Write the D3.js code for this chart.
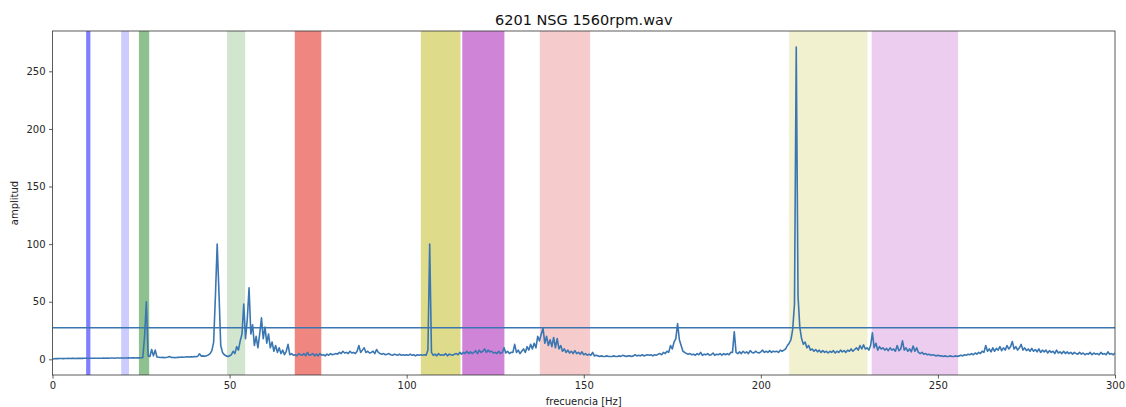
<!DOCTYPE html>
<html>
<head>
<meta charset="utf-8">
<script src="https://cdn.jsdelivr.net/npm/d3@7"></script>
<style>
  html, body { margin: 0; padding: 0; background: #fff; }
  svg { display: block; font-family: "DejaVu Sans", sans-serif; }
</style>
</head>
<body>
<svg id="chart" width="1126" height="407"></svg>
<script>
// ---------------- data ----------------
const title = "6201 NSG 1560rpm.wav";
const xLabel = "frecuencia [Hz]";
const yLabel = "amplitud";
const xTicks = [0, 50, 100, 150, 200, 250, 300];
const yTicks = [0, 50, 100, 150, 200, 250];

const freqStart = 0;
const freqStep = 0.5;
// amplitude spectrum, one value per 0.5 Hz from 0 Hz to 300 Hz
const amplitude = [
  // 0 - 9.5
  0.3,0.5,0.6,0.6,0.7,0.7,0.6,0.7,0.7,0.8,0.7,0.8,0.8,0.7,0.8,0.8,0.9,0.8,0.9,0.9,
  // 10 - 19.5
  0.9,0.9,1.0,0.9,1.0,1.0,0.9,1.0,1.0,1.1,1.0,1.1,1.0,1.1,1.1,1.0,1.1,1.2,1.1,1.2,
  // 20 - 29.5
  1.2,1.1,1.2,1.3,1.2,1.3,1.3,1.2,1.4,1.3,1.4,1.5,20,50,3,2.5,8.5,3,8,2,
  // 30 - 39.5
  1.8,1.6,1.7,1.5,1.6,1.8,2.5,1.7,1.6,1.5,1.6,1.7,1.8,1.9,1.8,2.0,2.2,2.0,2.3,2.1,
  // 40 - 49.5
  2.4,2.2,2.6,4.8,2.8,3.0,2.6,3.2,3.8,5.0,7.5,15,55,100,58,12,6,4,3,2.5,
  // 50 - 59.5
  3,4,7,5,11,8,16,22,48,18,35,62,22,30,12,20,10,22,36,18,
  // 60 - 69.5
  28,14,22,10,15,7,12,6,10,5,8,4,7,13,4,5,3.5,4,3,5,
  // 70 - 79.5
  4,3.5,5,3,6,3.5,4,5,3,4.5,3,5,3.5,4,3,4.5,3.5,5,4,4.5,
  // 80 - 89.5
  5,4.5,6,5,7,5.5,6,5,7,5.5,6,5,7,12,6,8,10,6,7,5.5,
  // 90 - 99.5
  6,7,5,8.5,6,5,4.5,5,4,4.5,5,4,3.5,4.5,4,3.5,4.5,3.5,4,3.5,
  // 100 - 109.5
  4,3.5,4.5,3.5,4,3,4,3.5,4,3.5,4,3.5,8,100,6,3.5,4.5,3,5,3.5,
  // 110 - 119.5
  4,3.5,5,3,4.5,4,3.5,4.5,5,4,6,4.5,6,5,7,5,6.5,5,6,7.5,
  // 120 - 129.5
  5,8,6,7,9,6,8,6.5,7,5.5,6,5,7,5,6,10,5.5,7,5,6,
  // 130 - 139.5
  6,13,6,8,5,7,9,6,11,8,13,9,14,10,20,16,22,27,14,20,
  // 140 - 149.5
  12,17,11,19,10,18,9,12,7,9,6,8,5.5,7,5,7.5,5,6,4.5,6.5,
  // 150 - 159.5
  4,5,3.5,4.5,3.5,6,3,3.5,3,2.5,3,2.5,2.5,3,2.5,2.5,2.5,3,2.5,2.5,
  // 160 - 169.5
  3,2.5,3.5,3,2.5,3,3,2.5,3,4,3,3.5,3,4,3,3.5,4,3.5,4,3,
  // 170 - 179.5
  4,3.5,4.5,5,4,6,5,7,6,12,9,15,18,31,17,12,7,6,5,4.5,
  // 180 - 189.5
  5,4,4.5,3.5,5,4,6,3.5,4.5,4,5,3.5,4,5.5,3.5,4.5,4,5,3.5,5,
  // 190 - 199.5
  4,5,4,6,6,24,6,5,6.5,5,7,5.5,6.5,5,7.5,6,5.5,7,6,5.5,
  // 200 - 209.5
  6.5,8,6,7,6,7.5,6,7,6.5,7,6,8,7,8,9,12,14,17,26,48,
  // 210 - 219.5
  271,55,28,18,13,15,10,12,8,9,7,8.5,6.5,8,6,7.5,6,7,5.5,7,
  // 220 - 229.5
  6,7.5,5.5,7,6,8,6.5,7.5,6,8,7,9,7,8.5,10,8,12,9,12.5,9,
  // 230 - 239.5
  10,8,12,23,10,14,8,11,9,10,8,9.5,7.5,10,8,9,7,12,7.5,9,
  // 240 - 249.5
  16,8,10,7,9,6.5,11.5,7,10,6,5,6,4.5,5,4,4.5,3.5,4,3.5,3,
  // 250 - 259.5
  3.5,3,3,2.5,3,2.5,2.5,3,2.5,2.5,3,2.5,3,3.5,3,4,3.5,4.5,4,5,
  // 260 - 269.5
  4,5.5,4.5,6,5,7,6,12,7,9,6.5,10,7,9.5,8,11,7.5,10,8,12,
  // 270 - 279.5
  9,11,15.5,9,11,8,10,13,8,10,7.5,9,7,9.5,7,8.5,6.5,9,6,8,
  // 280 - 289.5
  6.5,8,5.5,7.5,6,7,5,8,5.5,6.5,5,7,5,6.5,5,6,4.5,6,5,4.5,
  // 290 - 300
  6,4.5,5.5,4,5,4.5,6,4,5.5,4.5,5,4,6,4.5,5,4,6.5,4.5,5,4,5.5
];

const thresholdLevel = 27.5;

// shaded frequency bands [start Hz, end Hz]
const bandStart = [9.5, 19.4, 24.4, 49.3, 68.4, 104.0, 115.7, 137.6, 208.0, 231.3];
const bandEnd   = [10.7, 21.6, 27.3, 54.4, 75.9, 115.2, 127.6, 151.8, 230.1, 255.7];
const bandColor = ["#8080ff", "#ccccff", "#8fc08f", "#d1e5cf", "#f08680",
                   "#dedb8b", "#d084d8", "#f6cbcb", "#f1f0cf", "#eccdef"];

// ---------------- drawing ----------------
const W = 1126, H = 407;
const margin = { left: 52.5, right: 11, top: 31, bottom: 32 };
const svg = d3.select("#chart");

const x = d3.scaleLinear().domain([0, 300]).range([margin.left, W - margin.right]);
const y = d3.scaleLinear().domain([-13.6, 285]).range([H - margin.bottom, margin.top]);

svg.append("defs").append("clipPath").attr("id", "plotclip")
  .append("rect")
  .attr("x", x.range()[0]).attr("y", y.range()[1])
  .attr("width", x.range()[1] - x.range()[0])
  .attr("height", y.range()[0] - y.range()[1]);

const plot = svg.append("g").attr("clip-path", "url(#plotclip)");

plot.selectAll("rect.band")
  .data(bandStart.map((s, i) => ({ s, e: bandEnd[i], c: bandColor[i] })))
  .enter().append("rect")
  .attr("class", "band")
  .attr("x", d => x(d.s))
  .attr("width", d => x(d.e) - x(d.s))
  .attr("y", y.range()[1])
  .attr("height", y.range()[0] - y.range()[1])
  .attr("fill", d => d.c);

const points = amplitude.map((a, i) => [freqStart + i * freqStep, a]);
const lineColor = "#3a76b1";

plot.append("path")
  .datum(points)
  .attr("fill", "none")
  .attr("stroke", lineColor)
  .attr("stroke-width", 1.6)
  .attr("stroke-linejoin", "round")
  .attr("d", d3.line().x(d => x(d[0])).y(d => y(d[1])));

plot.append("line")
  .attr("x1", x(0)).attr("x2", x(300))
  .attr("y1", y(thresholdLevel)).attr("y2", y(thresholdLevel))
  .attr("stroke", lineColor)
  .attr("stroke-width", 1.5);

// axes
const xAxis = svg.append("g")
  .attr("transform", `translate(0,${y.range()[0]})`)
  .call(d3.axisBottom(x).tickValues(xTicks).tickSize(3.5).tickPadding(3.5).tickFormat(d3.format("d")));
const yAxis = svg.append("g")
  .attr("transform", `translate(${x.range()[0]},0)`)
  .call(d3.axisLeft(y).tickValues(yTicks).tickSize(3.5).tickPadding(3.5).tickFormat(d3.format("d")));

[xAxis, yAxis].forEach(g => {
  g.select(".domain").remove();
  g.selectAll("text").attr("font-size", 10).attr("fill", "#262626")
    .attr("font-family", "DejaVu Sans, sans-serif");
  g.selectAll("line").attr("stroke", "#333").attr("stroke-width", 0.8);
});

// frame
svg.append("rect")
  .attr("x", x.range()[0]).attr("y", y.range()[1])
  .attr("width", x.range()[1] - x.range()[0])
  .attr("height", y.range()[0] - y.range()[1])
  .attr("fill", "none").attr("stroke", "#333").attr("stroke-width", 0.8);

// titles
svg.append("text")
  .attr("x", (x.range()[0] + x.range()[1]) / 2).attr("y", 25)
  .attr("text-anchor", "middle").attr("font-size", 14.5).attr("fill", "#111")
  .text(title);

svg.append("text")
  .attr("x", (x.range()[0] + x.range()[1]) / 2).attr("y", 405)
  .attr("text-anchor", "middle").attr("font-size", 10).attr("fill", "#222")
  .text(xLabel);

svg.append("text")
  .attr("transform", `translate(18,${(y.range()[0] + y.range()[1]) / 2}) rotate(-90)`)
  .attr("text-anchor", "middle").attr("font-size", 10).attr("fill", "#222")
  .text(yLabel);
</script>
</body>
</html>
